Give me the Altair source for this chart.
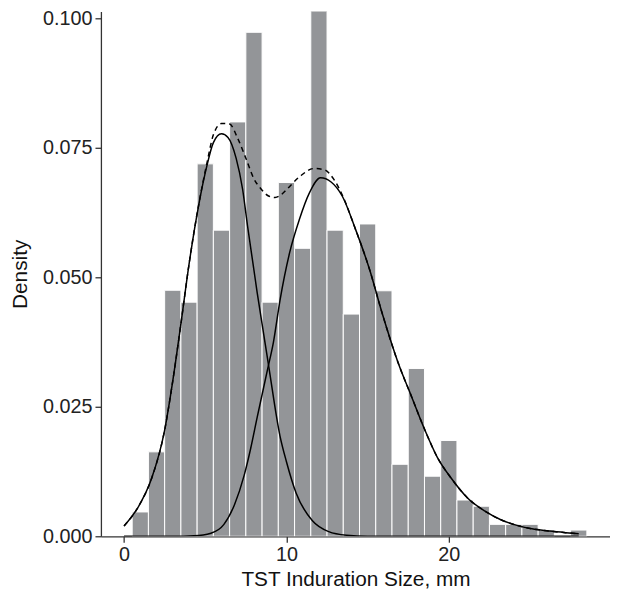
import altair as alt
import pandas as pd

# Histogram (bin centres, density)
bin_center = list(range(1, 29))
bin_density = [0.0047, 0.0163, 0.0475, 0.0452, 0.0719, 0.0591, 0.0800, 0.0973,
               0.0452, 0.0683, 0.0556, 0.1020, 0.0591, 0.0429, 0.0603, 0.0474,
               0.0139, 0.0324, 0.0116, 0.0185, 0.0070, 0.0058, 0.0023, 0.0023,
               0.0023, 0.0012, 0.0, 0.0012]

# Component 1 (solid)
c1_x = [0.0, 0.9, 1.7, 2.5, 3.0, 3.5, 4.0, 4.6, 5.1, 5.5, 6.0, 6.4, 6.9, 7.3,
        7.6, 8.2, 8.6, 8.9, 9.6, 10.0, 10.6, 11.6, 12.6, 13.7, 15.0, 20.0, 28.0]
c1_y = [0.0020, 0.0058, 0.0112, 0.0205, 0.0300, 0.0410, 0.0525, 0.0640, 0.0715,
        0.0760, 0.0777, 0.0770, 0.0730, 0.0670, 0.0600, 0.0470, 0.0390, 0.0330,
        0.0194, 0.0144, 0.0083, 0.0030, 0.0009, 0.0002, 0.0000, 0.0, 0.0]

# Component 2 (solid)
c2_x = [0.0, 3.0, 4.3, 5.35, 6.15, 6.8, 7.4, 7.8, 8.2, 8.85, 9.2, 9.6, 10.2,
        10.8, 11.4, 12.1, 12.75, 13.45, 14.25, 15.1, 15.9, 16.9, 17.7, 18.5,
        19.3, 20.15, 21.15, 22.2, 23.2, 24.2, 25.2, 26.2, 27.2, 28.0]
c2_y = [0.0, 0.0, 0.0001, 0.0006, 0.0023, 0.0061, 0.0118, 0.0170, 0.0230,
        0.0324, 0.0375, 0.0455, 0.0548, 0.0612, 0.0662, 0.0692, 0.0684, 0.0656,
        0.0593, 0.0517, 0.0430, 0.0333, 0.0270, 0.0207, 0.0152, 0.0112, 0.0074,
        0.0049, 0.0032, 0.0021, 0.0014, 0.0010, 0.0007, 0.0005]

# Mixture (dashed)
mix_x = [0.0, 0.9, 1.7, 2.5, 3.0, 3.5, 4.0, 4.6, 5.1, 5.5, 6.0, 6.5, 7.0, 7.5,
         8.0, 8.4, 8.9, 9.3, 9.7, 10.0, 10.8, 11.7, 12.3, 12.9, 13.45, 14.25,
         15.1, 15.9, 16.9, 17.7, 18.5, 19.3, 20.15, 21.15, 22.2, 23.2, 24.2,
         25.2, 26.2, 27.2, 28.0]
mix_y = [0.0020, 0.0058, 0.0112, 0.0205, 0.0300, 0.0410, 0.0525, 0.0641, 0.0720,
         0.0775, 0.0797, 0.0796, 0.0768, 0.0730, 0.0690, 0.0672, 0.0657, 0.0654,
         0.0660, 0.0669, 0.0694, 0.0710, 0.0708, 0.0690, 0.0658, 0.0593, 0.0517,
         0.0430, 0.0333, 0.0270, 0.0207, 0.0152, 0.0112, 0.0074, 0.0049, 0.0032,
         0.0021, 0.0014, 0.0010, 0.0007, 0.0005]

bars = pd.DataFrame({
    "left": [c - 0.5 for c in bin_center],
    "right": [c + 0.5 for c in bin_center],
    "density": bin_density,
})
bars = bars[bars["density"] > 0]

d1 = pd.DataFrame({"x": c1_x, "y": c1_y})
d2 = pd.DataFrame({"x": c2_x, "y": c2_y})
dm = pd.DataFrame({"x": mix_x, "y": mix_y})

FONT = "Liberation Sans"
xscale = alt.Scale(domain=[-1.425, 29.925], nice=False, zero=False)
yscale = alt.Scale(domain=[0, 0.10134], nice=False)

xaxis = alt.Axis(values=[0, 10, 20], title="TST Induration Size, mm", grid=False)
yaxis = alt.Axis(values=[0, 0.025, 0.05, 0.075, 0.1], format=".3f", title="Density", grid=False)

hist = alt.Chart(bars).mark_rect(fill="#939598", stroke="white", strokeWidth=1, clip=True).encode(
    x=alt.X("left:Q", scale=xscale, axis=xaxis),
    x2="right:Q",
    y=alt.Y("density:Q", scale=yscale, axis=yaxis),
    y2=alt.datum(0),
)

line1 = alt.Chart(d1).mark_line(color="black", strokeWidth=1.5, interpolate="monotone", clip=True).encode(
    x=alt.X("x:Q", scale=xscale), y=alt.Y("y:Q", scale=yscale))
line2 = alt.Chart(d2).mark_line(color="black", strokeWidth=1.5, interpolate="monotone", clip=True).encode(
    x=alt.X("x:Q", scale=xscale), y=alt.Y("y:Q", scale=yscale))
linem = alt.Chart(dm).mark_line(color="black", strokeWidth=1.5, strokeDash=[5, 4],
                                interpolate="monotone", clip=True).encode(
    x=alt.X("x:Q", scale=xscale), y=alt.Y("y:Q", scale=yscale))

chart = alt.layer(hist, line1, line2, linem).properties(
    width=515, height=531,
    autosize=alt.AutoSizeParams(type="none"),
    padding={"left": 94, "top": 0, "right": 0, "bottom": 58},
).configure_view(stroke=None).configure_axis(
    domainColor="#333333", domainWidth=1.3, tickColor="#333333", tickWidth=1.3,
    tickSize=6, labelPadding=3, labelFont=FONT, labelFontSize=20, labelColor="#222222",
    titleFont=FONT, titleFontSize=21, titleFontWeight="normal", titleColor="#111111",
).configure_axisX(titlePadding=4).configure_axisY(titlePadding=12)

chart.save("out.html", embed_options={"renderer": "svg", "actions": False})
